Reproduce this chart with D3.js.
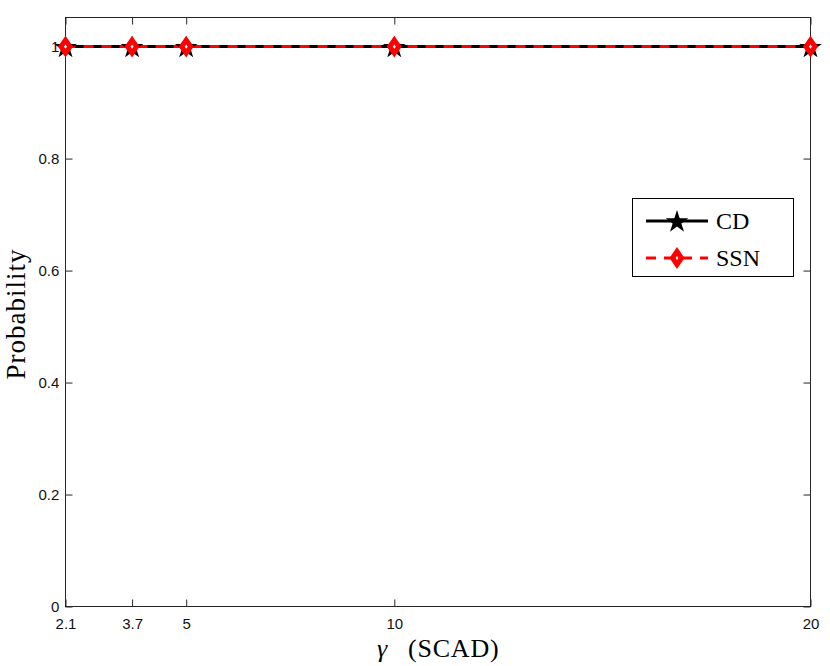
<!DOCTYPE html>
<html><head><meta charset="utf-8">
<script src="https://cdn.jsdelivr.net/npm/d3@7"></script>
<style>body{margin:0;background:#fff}svg{display:block}</style>
</head><body>
<svg id="c" width="830" height="666"></svg>
<script>
const gammaValues = [2.1, 3.7, 5, 10, 20];
const cdValues = [1, 1, 1, 1, 1];
const ssnValues = [1, 1, 1, 1, 1];
const xTicks = [2.1, 3.7, 5, 10, 20];
const xTickLabels = ["2.1", "3.7", "5", "10", "20"];
const yTicks = [0, 0.2, 0.4, 0.6, 0.8, 1];
const yTickLabels = ["0", "0.2", "0.4", "0.6", "0.8", "1"];
const seriesNames = ["CD", "SSN"];

const svg = d3.select("#c");
const L = 65.5, R = 810.5, T = 17.5, B = 606.5;
const x = d3.scaleLinear().domain([2.1, 20]).range([L, R]);
const y = d3.scaleLinear().domain([0, 1.052]).range([B, T]);

svg.append("rect").attr("width",830).attr("height",666).attr("fill","#fff");

svg.append("rect").attr("x",L).attr("y",T).attr("width",R-L).attr("height",B-T)
  .attr("fill","none").attr("stroke","#262626").attr("stroke-width",1);

const tl = 7;
const gx = svg.append("g").attr("transform",`translate(0,${B})`)
  .call(d3.axisBottom(x).tickValues(xTicks).tickFormat((d,i)=>xTickLabels[i]).tickSizeInner(-tl).tickSizeOuter(0).tickPadding(10));
const gxt = svg.append("g").attr("transform",`translate(0,${T})`)
  .call(d3.axisTop(x).tickValues(xTicks).tickFormat("").tickSizeInner(-tl).tickSizeOuter(0));
const gy = svg.append("g").attr("transform",`translate(${L},0)`)
  .call(d3.axisLeft(y).tickValues(yTicks).tickFormat((d,i)=>yTickLabels[i]).tickSizeInner(-tl).tickSizeOuter(0).tickPadding(10));
const gyr = svg.append("g").attr("transform",`translate(${R},0)`)
  .call(d3.axisRight(y).tickValues(yTicks).tickFormat("").tickSizeInner(-tl).tickSizeOuter(0));
[gx,gxt,gy,gyr].forEach(g=>{
  g.select(".domain").remove();
  g.selectAll("line").attr("stroke","#262626");
  g.selectAll("text").attr("font-family","Liberation Sans, Arial, sans-serif").attr("font-size",15).attr("fill","#111");
});
gx.selectAll("text").attr("y",22.5).attr("dy",0);
gy.selectAll("text").attr("dx","0.25em");

const line = d3.line().x((d,i)=>x(gammaValues[i])).y(d=>y(d));

const star = d3.symbol().type(d3.symbolStar).size(160);
const diamond = "M0,-6.5 L4.5,0 L0,6.5 L-4.5,0 Z";

svg.append("path").attr("d",line(cdValues)).attr("fill","none").attr("stroke","#000").attr("stroke-width",3);
svg.append("path").attr("d",line(ssnValues)).attr("fill","none").attr("stroke","#f00").attr("stroke-width",3).attr("stroke-dasharray","10,8");

cdValues.forEach((v,i)=>{
  svg.append("path").attr("d",star()).attr("transform",`translate(${x(gammaValues[i])},${y(v)+1})`).attr("fill","#000");
});
ssnValues.forEach((v,i)=>{
  svg.append("path").attr("d",diamond).attr("transform",`translate(${x(gammaValues[i])},${y(v)})`)
    .attr("fill","#fff").attr("stroke","#f00").attr("stroke-width",5).attr("stroke-linejoin","miter");
});

const xl = svg.append("text").attr("y",657)
  .attr("font-family","Liberation Serif, DejaVu Serif, serif").attr("font-size",26);
xl.append("tspan").attr("x",377).attr("font-style","italic").text("γ");
xl.append("tspan").attr("x",408).attr("letter-spacing",0.8).text("(SCAD)");
svg.append("text").attr("transform","translate(25,314) rotate(-90)").attr("text-anchor","middle")
  .attr("font-family","Liberation Serif, DejaVu Serif, serif").attr("font-size",27).attr("letter-spacing",1).text("Probability");

const lg = svg.append("g");
lg.append("rect").attr("x",632.5).attr("y",198.5).attr("width",161).attr("height",78).attr("fill","#fff").attr("stroke","#000");
const ly = [221, 258];
lg.append("line").attr("x1",646).attr("x2",708).attr("y1",ly[0]).attr("y2",ly[0]).attr("stroke","#000").attr("stroke-width",3);
lg.append("path").attr("d",star()).attr("transform",`translate(677,${ly[0]+1})`).attr("fill","#000");
lg.append("line").attr("x1",646).attr("x2",708).attr("y1",ly[1]).attr("y2",ly[1]).attr("stroke","#f00").attr("stroke-width",3).attr("stroke-dasharray","10,8");
lg.append("path").attr("d",diamond).attr("transform",`translate(677,${ly[1]})`).attr("fill","#fff").attr("stroke","#f00").attr("stroke-width",5);
seriesNames.forEach((n,i)=>{
  lg.append("text").attr("x",716).attr("y",ly[i]+8).attr("font-family","Liberation Serif, DejaVu Serif, serif").attr("font-size",24).text(n);
});
</script>
</body></html>
